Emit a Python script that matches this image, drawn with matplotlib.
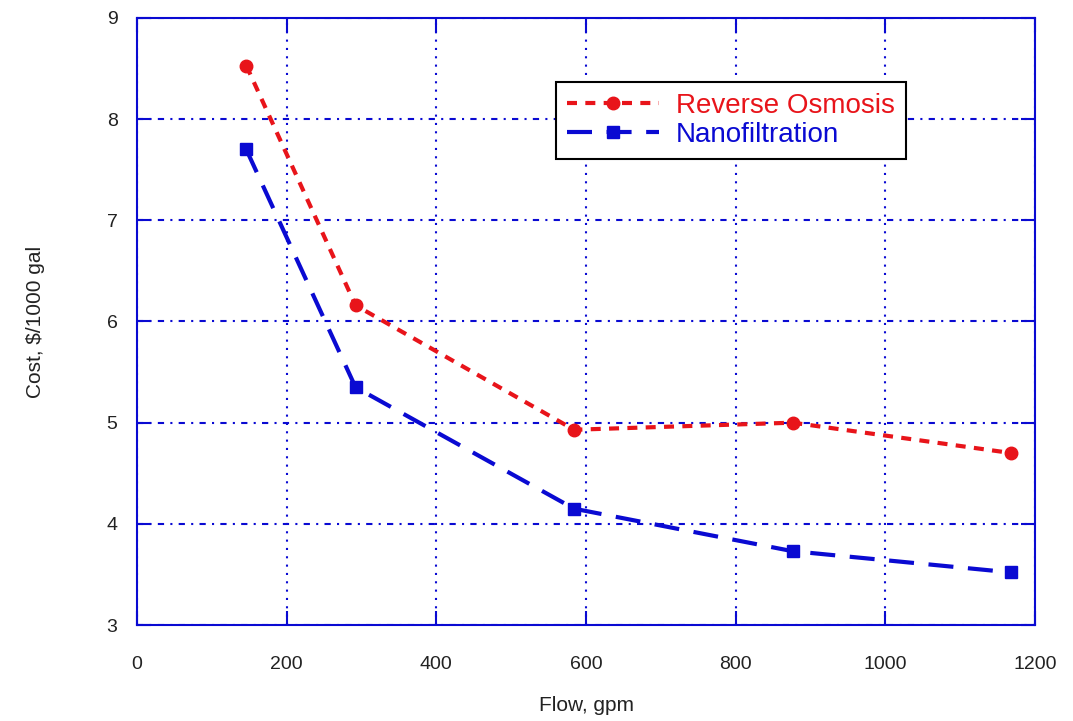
import matplotlib

matplotlib.use("Agg")
import matplotlib.pyplot as plt
from matplotlib.lines import Line2D

plt.rcParams["font.family"] = ["Liberation Sans", "DejaVu Sans"]

flow = [146, 292, 584, 876, 1168]
ro_cost = [8.53, 6.16, 4.93, 5.00, 4.70]
nf_cost = [7.70, 5.35, 4.15, 3.73, 3.52]

RED = "#e8141a"
BLUE = "#0a0ad2"
RO_DASH = (0, (2.4, 2.0))
NF_DASH = (0, (6.0, 3.5))

fig = plt.figure(figsize=(10.73, 7.21), dpi=100)
ax = fig.add_axes([0.1277, 0.1331, 0.8369, 0.842])

ax.plot(flow, ro_cost, color=RED, lw=3, linestyle=RO_DASH, dash_capstyle="butt", zorder=3)
ax.plot(flow, nf_cost, color=BLUE, lw=3, linestyle=NF_DASH, dash_capstyle="butt", zorder=3)
ax.plot(flow, ro_cost, linestyle="none", marker="o", ms=9, color=RED, zorder=4)
ax.plot(flow, nf_cost, linestyle="none", marker="s", ms=9, color=BLUE, zorder=4)

ax.set_xlim(0, 1200)
ax.set_ylim(3, 9)
ax.set_xticks(range(0, 1201, 200))
ax.set_yticks(range(3, 10))

ax.xaxis.grid(True, color=BLUE, linestyle=(0, (1, 3)), lw=1.5)
ax.yaxis.grid(True, color=BLUE, linestyle=(0, (3, 3, 1, 3)), lw=1.5)
ax.set_axisbelow(True)

for s in ax.spines.values():
    s.set_color(BLUE)
    s.set_linewidth(1.5)
ax.tick_params(direction="in", length=10, width=1.5, color=BLUE, top=True, right=True,
               labelsize=14, labelcolor="#222222")
ax.tick_params(axis="x", pad=22)
ax.tick_params(axis="y", pad=14)

ax.set_xlabel("Flow, gpm", fontsize=15, color="#222222", labelpad=17)
ax.set_ylabel(r"Cost, \$/1000 gal", fontsize=15, color="#222222", labelpad=44)

handles = [
    Line2D([], [], color=RED, lw=3, linestyle=RO_DASH, marker="o", ms=9),
    Line2D([], [], color=BLUE, lw=3, linestyle=NF_DASH, marker="s", ms=9),
]
leg = ax.legend(handles, ["Reverse Osmosis", "Nanofiltration"], loc="upper left",
                bbox_to_anchor=(0.467, 0.895), fontsize=20, frameon=True, fancybox=False,
                edgecolor="black", handlelength=3.3, borderpad=0.4, labelspacing=0.1,
                handletextpad=0.6, framealpha=1, borderaxespad=0)
leg.get_frame().set_linewidth(1.5)
for t, c in zip(leg.get_texts(), [RED, BLUE]):
    t.set_color(c)

fig.savefig("out.png", dpi=100)
